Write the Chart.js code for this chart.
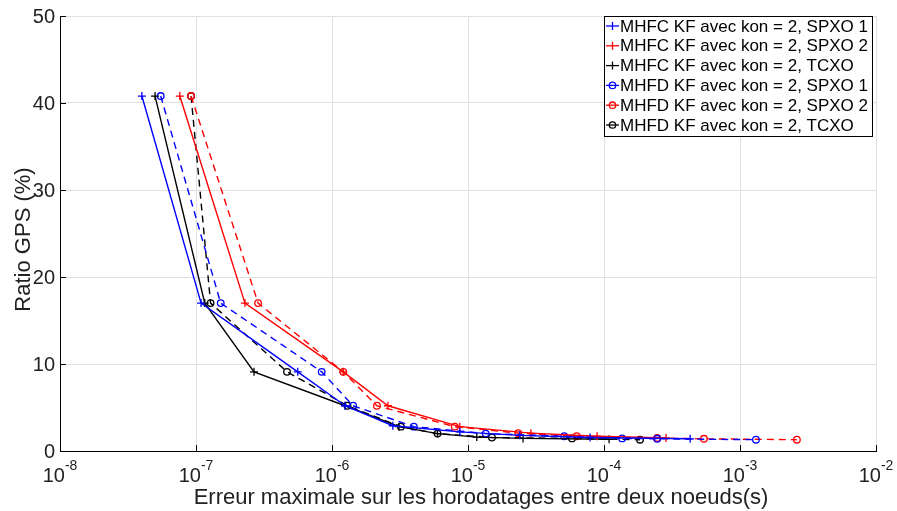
<!DOCTYPE html>
<html>
<head>
<meta charset="utf-8">
<script src="https://cdn.jsdelivr.net/npm/chart.js@4.4.1/dist/chart.umd.min.js"></script>
<style>
html,body{margin:0;padding:0;background:#fff;}
#wrap{width:897px;height:511px;}
</style>
</head>
<body>
<div id="wrap"><canvas id="c" width="897" height="511"></canvas></div>
<script>
// ---- data ----
const seriesNames = [
  'MHFC KF avec kon = 2, SPXO 1',
  'MHFC KF avec kon = 2, SPXO 2',
  'MHFC KF avec kon = 2, TCXO',
  'MHFD KF avec kon = 2, SPXO 1',
  'MHFD KF avec kon = 2, SPXO 2',
  'MHFD KF avec kon = 2, TCXO'
];
const errMhfcSpxo1 = [4.0e-8, 1.09e-7, 5.6e-7, 1.25e-6, 2.8e-6, 8.7e-6, 2.4e-5, 7.9e-5, 4.3e-4];
const ratioMhfcSpxo1 = [40.8, 17.0, 9.1, 5.2, 2.9, 2.2, 1.8, 1.55, 1.4];
const errMhfcSpxo2 = [7.6e-8, 2.29e-7, 1.21e-6, 2.58e-6, 8.7e-6, 2.9e-5, 8.9e-5, 2.86e-4];
const ratioMhfcSpxo2 = [40.8, 17.0, 9.1, 5.2, 2.8, 2.05, 1.7, 1.5];
const errMhfcTcxo = [5.0e-8, 1.16e-7, 2.67e-7, 1.25e-6, 3.11e-6, 5.97e-6, 1.16e-5, 2.54e-5, 1.09e-4];
const ratioMhfcTcxo = [40.8, 17.0, 9.1, 5.2, 2.8, 2.0, 1.6, 1.45, 1.35];
const errMhfdSpxo1 = [5.5e-8, 1.52e-7, 8.4e-7, 1.43e-6, 4.0e-6, 1.35e-5, 5.1e-5, 1.36e-4, 2.46e-4, 1.31e-3];
const ratioMhfdSpxo1 = [40.8, 17.0, 9.1, 5.2, 2.8, 2.0, 1.7, 1.45, 1.4, 1.3];
const errMhfdSpxo2 = [9.2e-8, 2.86e-7, 1.21e-6, 2.14e-6, 8.0e-6, 2.34e-5, 6.3e-5, 2.46e-4, 5.43e-4, 2.62e-3];
const ratioMhfdSpxo2 = [40.8, 17.0, 9.1, 5.2, 2.8, 2.05, 1.7, 1.5, 1.4, 1.3];
const errMhfdTcxo = [9.2e-8, 1.28e-7, 4.67e-7, 1.30e-6, 3.21e-6, 5.97e-6, 1.50e-5, 5.82e-5, 1.84e-4];
const ratioMhfdTcxo = [40.8, 17.0, 9.1, 5.2, 2.8, 2.0, 1.55, 1.45, 1.3];

const xTickExponents = [-8, -7, -6, -5, -4, -3, -2];
const yTickValues = [0, 10, 20, 30, 40, 50];
const xTitle = 'Erreur maximale sur les horodatages entre deux noeuds(s)';
const yTitle = 'Ratio GPS (%)';

// ---- build ----
function pts(xs, ys){ return xs.map((x,i)=>({x:x, y:ys[i]})); }
const colors = ['#0000ff','#ff0000','#000000','#0000ff','#ff0000','#000000'];
const xsAll = [errMhfcSpxo1, errMhfcSpxo2, errMhfcTcxo, errMhfdSpxo1, errMhfdSpxo2, errMhfdTcxo];
const ysAll = [ratioMhfcSpxo1, ratioMhfcSpxo2, ratioMhfcTcxo, ratioMhfdSpxo1, ratioMhfdSpxo2, ratioMhfdTcxo];

const datasets = seriesNames.map((name,i)=>{
  const dashed = i >= 3;
  return {
    label: name,
    data: pts(xsAll[i], ysAll[i]),
    borderColor: colors[i],
    backgroundColor: 'rgba(0,0,0,0)',
    borderWidth: 1.4,
    borderDash: dashed ? [7,5] : [],
    pointStyle: dashed ? 'circle' : 'cross',
    pointRadius: dashed ? 3.3 : 4,
    pointBorderWidth: 1.3,
    pointBorderColor: colors[i],
    pointBackgroundColor: 'rgba(0,0,0,0)',
    tension: 0,
    fill: false
  };
});

const FONT = '"Liberation Sans", Arial, Helvetica, sans-serif';

const decorPlugin = {
  id: 'decor',
  afterDraw(chart){
    const ctx = chart.ctx;
    const xs = chart.scales.x, ys = chart.scales.y;
    const area = chart.chartArea;
    ctx.save();
    // inward tick marks
    ctx.strokeStyle = '#000'; ctx.lineWidth = 1;
    xTickExponents.forEach(e=>{
      const px = Math.round(xs.getPixelForValue(Math.pow(10,e))) + 0.5;
      ctx.beginPath(); ctx.moveTo(px, area.bottom); ctx.lineTo(px, area.bottom - 6); ctx.stroke();
    });
    yTickValues.forEach(v=>{
      const py = Math.round(ys.getPixelForValue(v)) + 0.5;
      ctx.beginPath(); ctx.moveTo(area.left, py); ctx.lineTo(area.left + 6, py); ctx.stroke();
    });
    // y tick labels
    ctx.fillStyle = '#222';
    ctx.font = '20px ' + FONT;
    ctx.textAlign = 'right'; ctx.textBaseline = 'middle';
    yTickValues.forEach(v=>{
      ctx.fillText(String(v), area.left - 5, ys.getPixelForValue(v) + 1);
    });
    // x tick labels 10^e
    xTickExponents.forEach(e=>{
      const px = xs.getPixelForValue(Math.pow(10,e));
      ctx.font = '20px ' + FONT;
      const w1 = ctx.measureText('10').width;
      ctx.font = '14px ' + FONT;
      const sup = '-' + Math.abs(e);
      const w2 = ctx.measureText(sup).width;
      const start = px - (w1 + w2)/2;
      ctx.textAlign = 'left'; ctx.textBaseline = 'alphabetic';
      ctx.font = '20px ' + FONT;
      ctx.fillText('10', start, area.bottom + 31);
      ctx.font = '14px ' + FONT;
      ctx.fillText(sup, start + w1, area.bottom + 19);
    });
    // axis titles
    ctx.font = '22px ' + FONT;
    ctx.textAlign = 'center'; ctx.textBaseline = 'alphabetic';
    ctx.fillText(xTitle, (area.left + area.right)/2 + 13, area.bottom + 53);
    ctx.save();
    ctx.translate(30, (area.top + area.bottom)/2 + 6);
    ctx.rotate(-Math.PI/2);
    ctx.font = '22px ' + FONT;
    ctx.fillText(yTitle, 0, 0);
    ctx.restore();
    // legend
    const lx = 604.5, ly = 16.5, lw = 268, lh = 120;
    ctx.fillStyle = '#fff';
    ctx.fillRect(lx, ly, lw, lh);
    ctx.strokeStyle = '#000'; ctx.lineWidth = 1;
    ctx.strokeRect(lx, ly, lw, lh);
    ctx.font = '17px ' + FONT;
    ctx.textAlign = 'left'; ctx.textBaseline = 'middle';
    chart.data.datasets.forEach((ds,i)=>{
      const cy = 26 + i*19.8;
      ctx.strokeStyle = ds.borderColor; ctx.lineWidth = 1.3;
      ctx.setLineDash([]);
      ctx.beginPath(); ctx.moveTo(606, cy); ctx.lineTo(619, cy); ctx.stroke();
      if (ds.pointStyle === 'cross'){
        ctx.beginPath(); ctx.moveTo(612.5, cy-4); ctx.lineTo(612.5, cy+4); ctx.stroke();
      } else {
        ctx.beginPath(); ctx.arc(612.5, cy, 3.2, 0, Math.PI*2); ctx.stroke();
      }
      ctx.fillStyle = '#000';
      ctx.fillText(ds.label, 620, cy + 1);
    });
    ctx.restore();
  }
};

new Chart(document.getElementById('c'), {
  type: 'line',
  data: { datasets: datasets },
  options: {
    responsive: false,
    animation: false,
    devicePixelRatio: 1,
    layout: { padding: { left: 60, right: 21, top: 16, bottom: 60 } },
    plugins: { legend: { display: false }, tooltip: { enabled: false }, title: { display: false } },
    scales: {
      x: {
        type: 'logarithmic',
        min: 1e-8, max: 1e-2,
        afterBuildTicks: (s)=>{ s.ticks = xTickExponents.map(e=>({value: Math.pow(10,e)})); },
        ticks: { display: false },
        grid: { color: '#e0e0e0', lineWidth: 1, drawTicks: false },
        border: { display: true, color: '#000', width: 1 }
      },
      y: {
        type: 'linear',
        min: 0, max: 50,
        afterBuildTicks: (s)=>{ s.ticks = yTickValues.map(v=>({value: v})); },
        ticks: { display: false },
        grid: { color: '#e0e0e0', lineWidth: 1, drawTicks: false },
        border: { display: true, color: '#000', width: 1 }
      }
    }
  },
  plugins: [decorPlugin]
});
</script>
</body>
</html>
